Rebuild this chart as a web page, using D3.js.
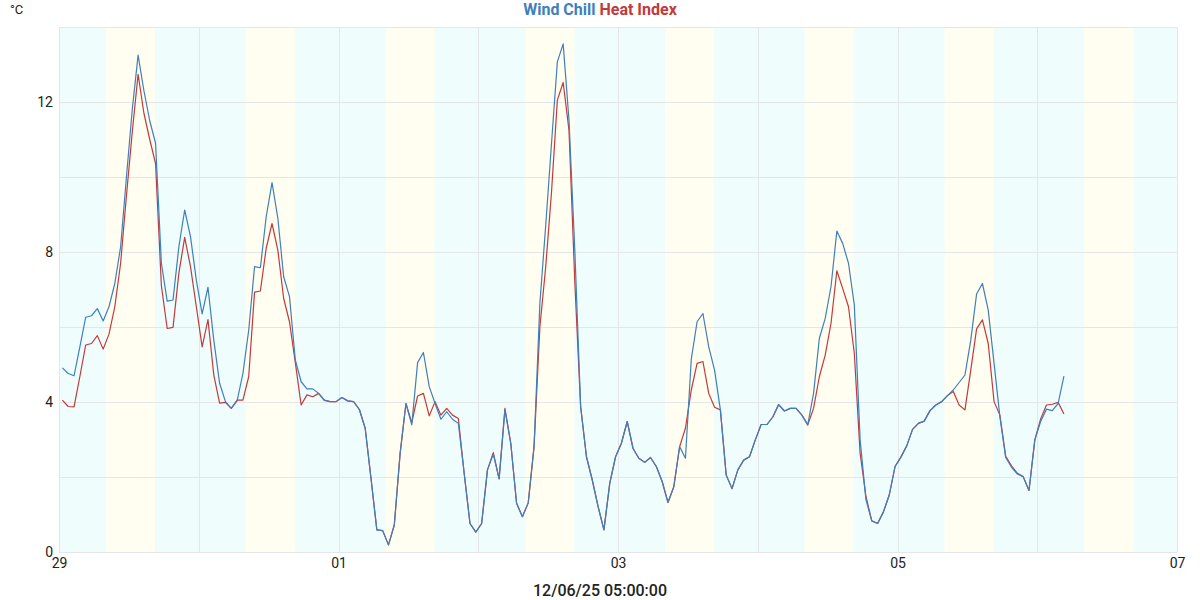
<!DOCTYPE html>
<html>
<head>
<meta charset="utf-8">
<script src="https://cdn.jsdelivr.net/npm/d3@7"></script>
<style>
  body { margin: 0; background: #fff; font-family: Roboto, "Noto Sans", sans-serif; }
  svg { display: block; }
</style>
</head>
<body>
<svg class="chart"></svg>
<script>
// hourly readings, first one at 29 Nov 00:35
START_TIME = new Date(2025, 10, 29, 0, 35);

WIND_CHILL = [
  4.91, 4.76, 4.70, 5.47, 6.26, 6.30, 6.49, 6.16, 6.54, 7.16,
  8.14, 10.0, 11.8, 13.25, 12.3, 11.5, 10.9, 7.7, 6.69, 6.72,
  8.14, 9.12, 8.41, 7.25, 6.35, 7.06, 5.65, 4.50, 4.01, 3.83,
  4.03, 4.76, 5.92, 7.61, 7.58, 8.94, 9.85, 8.90, 7.34, 6.81,
  5.12, 4.54, 4.35, 4.35, 4.23, 4.04, 4.01, 4.01, 4.12, 4.03,
  4.01, 3.80, 3.30, 1.96, 0.59, 0.57, 0.19, 0.72, 2.63, 3.96,
  3.39, 5.05, 5.32, 4.41, 3.96, 3.54, 3.74, 3.54, 3.43, 2.10,
  0.76, 0.53, 0.76, 2.19, 2.61, 1.95, 3.79, 2.90, 1.30, 0.94,
  1.31, 2.81, 6.63, 8.7, 10.9, 13.07, 13.55, 11.52, 8.05, 3.88,
  2.54, 1.92, 1.21, 0.59, 1.83, 2.54, 2.90, 3.48, 2.76, 2.50,
  2.39, 2.52, 2.28, 1.88, 1.32, 1.74, 2.81, 2.50, 5.14, 6.14,
  6.36, 5.47, 4.85, 3.79, 2.05, 1.69, 2.19, 2.45, 2.54, 2.99,
  3.40, 3.40, 3.60, 3.93, 3.76, 3.83, 3.83, 3.65, 3.39, 4.23,
  5.70, 6.23, 7.08, 8.56, 8.23, 7.70, 6.59, 2.99, 1.39, 0.83,
  0.76, 1.07, 1.52, 2.28, 2.53, 2.83, 3.27, 3.43, 3.49, 3.77,
  3.92, 4.01, 4.17, 4.32, 4.52, 4.72, 5.65, 6.88, 7.16, 6.45,
  5.03, 3.61, 2.52, 2.26, 2.08, 2.01, 1.64, 2.99, 3.48, 3.81,
  3.77, 3.96, 4.69
];

HEAT_INDEX = [
  4.05, 3.88, 3.87, 4.68, 5.52, 5.56, 5.77, 5.41, 5.81, 6.54,
  7.70, 9.5, 11.2, 12.74, 11.7, 11.0, 10.36, 7.1, 5.96, 5.99,
  7.43, 8.39, 7.61, 6.54, 5.47, 6.20, 4.72, 3.97, 3.99, 3.83,
  4.05, 4.05, 4.68, 6.93, 6.96, 8.10, 8.76, 8.05, 6.76, 6.14,
  5.05, 3.92, 4.19, 4.14, 4.23, 4.05, 4.01, 4.01, 4.12, 4.03,
  4.01, 3.80, 3.30, 1.96, 0.59, 0.57, 0.19, 0.72, 2.63, 3.96,
  3.45, 4.16, 4.23, 3.63, 4.01, 3.65, 3.83, 3.65, 3.56, 2.10,
  0.76, 0.53, 0.76, 2.19, 2.65, 1.95, 3.83, 2.90, 1.30, 0.94,
  1.31, 2.81, 6.0, 7.6, 9.6, 12.05, 12.52, 11.25, 7.2, 3.88,
  2.54, 1.92, 1.21, 0.59, 1.83, 2.54, 2.90, 3.48, 2.76, 2.50,
  2.39, 2.52, 2.28, 1.88, 1.32, 1.74, 2.81, 3.30, 4.32, 5.03,
  5.08, 4.23, 3.86, 3.79, 2.05, 1.69, 2.19, 2.45, 2.54, 2.99,
  3.40, 3.40, 3.60, 3.93, 3.76, 3.83, 3.83, 3.65, 3.39, 3.83,
  4.68, 5.25, 6.10, 7.50, 7.03, 6.54, 5.30, 2.63, 1.48, 0.83,
  0.76, 1.07, 1.52, 2.28, 2.53, 2.83, 3.27, 3.43, 3.49, 3.77,
  3.92, 4.01, 4.17, 4.28, 3.92, 3.79, 4.85, 5.95, 6.19, 5.56,
  4.01, 3.65, 2.55, 2.30, 2.10, 2.01, 1.64, 2.99, 3.55, 3.92,
  3.94, 3.99, 3.68
];

// daylight hours (yellow bands), night in cyan
DAY_START_HOUR = 8.07;
DAY_END_HOUR = 16.5;

X_TICKS = [new Date(2025, 10, 29), new Date(2025, 11, 1), new Date(2025, 11, 3),
           new Date(2025, 11, 5), new Date(2025, 11, 7)];
Y_TICKS = [0, 4, 8, 12];

PERIOD_START = new Date(2025, 10, 29);
PERIOD_END = new Date(2025, 11, 7);
Y_DOMAIN_START = 0;
Y_DOMAIN_END = 14;

FOOTER_TEXT = "12/06/25 05:00:00";

WIDTH = 1200;
HEIGHT = 600;
CHART_MARGIN = {top: 27, right: 23, bottom: 48, left: 59};
CHART_WIDTH = WIDTH - CHART_MARGIN.left - CHART_MARGIN.right;
CHART_HEIGHT = HEIGHT - CHART_MARGIN.top - CHART_MARGIN.bottom;

BLUE = "#3f7fbc";
RED = "#c23a3a";

function buildChart() {
    var svg = d3.select(".chart").attr("width", WIDTH).attr("height", HEIGHT);
    var g = svg.append("g")
        .attr("transform", "translate(" + CHART_MARGIN.left + "," + CHART_MARGIN.top + ")");

    var x = d3.scaleTime().domain([PERIOD_START, PERIOD_END]).range([0, CHART_WIDTH]);
    var y = d3.scaleLinear().domain([Y_DOMAIN_START, Y_DOMAIN_END]).range([CHART_HEIGHT, 0]);

    addBands(g, x);
    addGrid(g, x, y);
    addAxes(g, x, y);

    var times = WIND_CHILL.map(function(d, i) { return d3.timeHour.offset(START_TIME, i); });
    addLine(g, x, y, times, HEAT_INDEX, RED);
    addLine(g, x, y, times, WIND_CHILL, BLUE);

    addTitle(svg);
}

function addBands(g, x) {
    var days = d3.timeDay.range(PERIOD_START, PERIOD_END);
    g.append("rect")
        .attr("width", CHART_WIDTH).attr("height", CHART_HEIGHT)
        .attr("fill", "#effdfd");
    g.selectAll(".day-band")
        .data(days)
        .enter().append("rect")
        .attr("class", "day-band")
        .attr("x", function(d) { return x(new Date(+d + DAY_START_HOUR * 3600e3)); })
        .attr("width", function(d) {
            return x(new Date(+d + DAY_END_HOUR * 3600e3)) - x(new Date(+d + DAY_START_HOUR * 3600e3));
        })
        .attr("y", 0)
        .attr("height", CHART_HEIGHT)
        .attr("fill", "#fffef0");
}

function addGrid(g, x, y) {
    g.append("g")
        .selectAll("line")
        .data(d3.range(Y_DOMAIN_START, Y_DOMAIN_END + 1, 2))
        .enter().append("line")
        .attr("x1", 0).attr("x2", CHART_WIDTH)
        .attr("y1", function(d) { return Math.round(y(d)) + 0.5; })
        .attr("y2", function(d) { return Math.round(y(d)) + 0.5; })
        .attr("stroke", "#e4e6e8");
    g.append("g")
        .selectAll("line")
        .data(d3.timeDay.range(PERIOD_START, d3.timeDay.offset(PERIOD_END, 1)))
        .enter().append("line")
        .attr("y1", 0).attr("y2", CHART_HEIGHT)
        .attr("x1", function(d) { return Math.round(x(d)) + 0.5; })
        .attr("x2", function(d) { return Math.round(x(d)) + 0.5; })
        .attr("stroke", "#e4e6e8");
}

function addAxes(g, x, y) {
    var xAxis = g.append("g")
        .attr("transform", "translate(0," + CHART_HEIGHT + ")")
        .call(d3.axisBottom(x).tickValues(X_TICKS).tickFormat(d3.timeFormat("%d")).tickSize(0).tickPadding(6));
    xAxis.select(".domain").remove();
    xAxis.selectAll("text").attr("font-size", 14).attr("fill", "#222")
        .attr("font-family", "Roboto, sans-serif");

    var yAxis = g.append("g")
        .call(d3.axisLeft(y).tickValues(Y_TICKS).tickSize(0).tickPadding(6));
    yAxis.select(".domain").remove();
    yAxis.selectAll("text").attr("font-size", 14).attr("fill", "#222")
        .attr("font-family", "Roboto, sans-serif");
}

function addLine(g, x, y, times, values, color) {
    var line = d3.line()
        .x(function(d, i) { return x(times[i]); })
        .y(function(d) { return y(d); });
    g.append("path")
        .datum(values)
        .attr("fill", "none")
        .attr("stroke", color)
        .attr("stroke-width", 1.2)
        .attr("stroke-linejoin", "round")
        .attr("d", line);
}

function addTitle(svg) {
    var title = svg.append("text")
        .attr("x", WIDTH / 2)
        .attr("y", 15)
        .attr("text-anchor", "middle")
        .attr("font-size", 16)
        .attr("font-weight", "bold")
        .attr("font-family", "Roboto, sans-serif");
    title.append("tspan").attr("fill", BLUE).text("Wind Chill");
    title.append("tspan").attr("fill", RED).text(" Heat Index");

    svg.append("text")
        .attr("x", 10).attr("y", 14)
        .attr("font-size", 13)
        .attr("fill", "#222")
        .attr("font-family", "Roboto, sans-serif")
        .text("°C");

    svg.append("text")
        .attr("x", WIDTH / 2)
        .attr("y", 596)
        .attr("text-anchor", "middle")
        .attr("font-size", 16)
        .attr("font-weight", 500)
        .attr("fill", "#222")
        .attr("font-family", "Roboto, sans-serif")
        .text(FOOTER_TEXT);
}

buildChart();
</script>
</body>
</html>
